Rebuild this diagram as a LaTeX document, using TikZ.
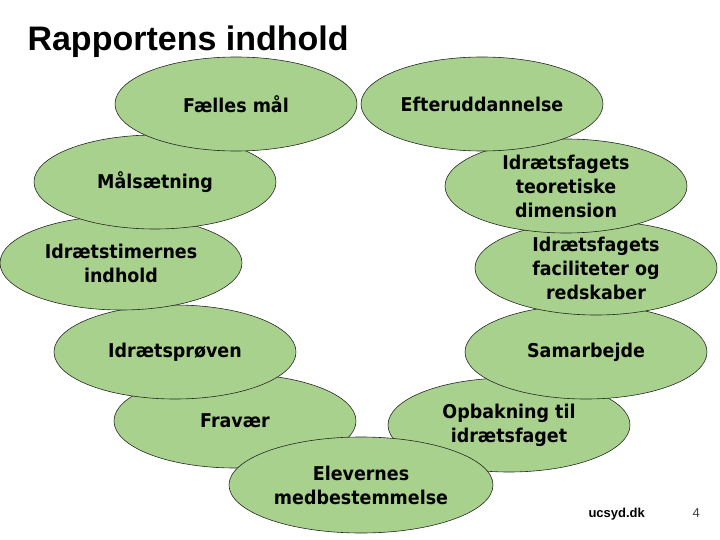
\documentclass[tikz,border=0pt]{standalone}
\usepackage{fontspec}
\setmainfont{Liberation Sans}
\newfontfamily\blobfont{DejaVu Sans}[FakeStretch=0.92]
\usepackage{xcolor}
\usetikzlibrary{shapes.geometric}
\definecolor{leafgreen}{RGB}{169,209,142}

\begin{document}
\begin{tikzpicture}[x=1pt, y=-1pt,
    blob/.style={ellipse, draw=black!85, line width=0.6pt, fill=leafgreen, inner sep=0pt,
        minimum width=242pt, minimum height=94pt, align=center,
        font=\blobfont\bfseries\fontsize{19}{24}\selectfont},
    footer/.style={anchor=base west, font=\fontsize{13}{15}\selectfont}
]
\useasboundingbox (0,0) rectangle (720,540);
\node[anchor=base west, font=\bfseries\fontsize{34}{40}\selectfont] (title) at (24,51) {Rapportens indhold};
% lower ellipses first, upper ones on top
\node[blob] (fravaer) at (235,421) {Fravær};
\node[blob] (opbak) at (509,425) {Opbakning til\\idrætsfaget};
\node[blob] (proeven) at (175,352) {Idrætsprøven};
\node[blob] (samarb) at (586,352) {Samarbejde};
\node[blob] (timer) at (121,263) {Idrætstimernes\\indhold};
\node[blob] (facil) at (596,268) {Idrætsfagets\\faciliteter og\\redskaber};
\node[blob] (maal) at (155,182) {Målsætning};
\node[blob] (teori) at (566,186) {Idrætsfagets\\teoretiske\\dimension};
\node[blob] (faelles) at (236,104) {Fælles mål};
\node[blob] (efter) at (482,104) {Efteruddannelse};
\node[blob, minimum width=264pt, minimum height=96pt] (elev) at (361,485) {Elevernes\\medbestemmelse};
\node[footer, font=\bfseries\fontsize{13}{15}\selectfont] (site) at (585,517) {ucsyd.dk};
\node[footer, text=black!75] (page) at (689,517) {4};
\end{tikzpicture}
\end{document}
